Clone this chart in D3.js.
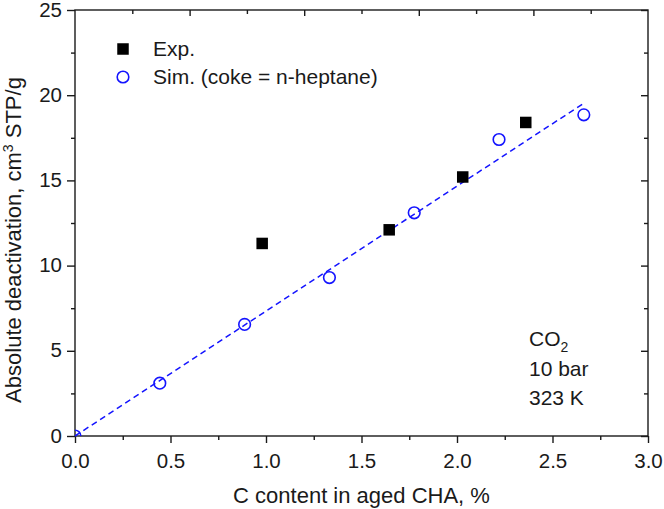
<!DOCTYPE html>
<html><head><meta charset="utf-8">
<script src="https://cdn.jsdelivr.net/npm/d3@7"></script>
<style>body{margin:0;background:#fff}svg{display:block}text{font-family:"Liberation Sans",Arial,sans-serif;fill:#1a1a1a}</style>
</head><body><svg id="c" width="664" height="509"></svg>
<script>
// Data
const expX = [0.98, 1.645, 2.03, 2.36];
const expY = [11.3, 12.1, 15.2, 18.4];
const simX = [0, 0.444, 0.888, 1.332, 1.776, 2.22, 2.664];
const simY = [0, 3.1, 6.55, 9.3, 13.1, 17.4, 18.85];
const fitX = [0, 2.66];
const fitY = [0, 19.5];
const xTicks = [0, 0.5, 1.0, 1.5, 2.0, 2.5, 3.0];
const xMinor = [0.25, 0.75, 1.25, 1.75, 2.25, 2.75];
const yTicks = [0, 5, 10, 15, 20, 25];
const yMinor = [2.5, 7.5, 12.5, 17.5, 22.5];
const legendLabels = ["Exp.", "Sim. (coke = n-heptane)"];
const noteLines = ["CO", "10 bar", "323 K"];

const svg = d3.select("#c");
const L = 75, R = 648, T = 10, B = 436;
const x = d3.scaleLinear().domain([0, 3]).range([L, R]);
const y = d3.scaleLinear().domain([0, 25]).range([B, T]);
const blue = "#1414ff";
const axCol = "#1a1a1a";

// frame
svg.append("rect").attr("x", L).attr("y", T).attr("width", R - L).attr("height", B - T)
  .attr("fill", "none").attr("stroke", axCol).attr("stroke-width", 1.4);

function styleAxis(g) {
  g.select(".domain").remove();
  g.selectAll(".tick line").attr("stroke", axCol).attr("stroke-width", 1.4);
  g.selectAll("text").style("font-size", "20.5px").attr("fill", axCol);
}
// bottom
const gb = svg.append("g").attr("transform", `translate(0,${B})`)
  .call(d3.axisBottom(x).tickValues(xTicks).tickFormat(d3.format(".1f")).tickSize(7).tickPadding(10));
styleAxis(gb);
svg.append("g").attr("transform", `translate(0,${B})`)
  .call(d3.axisBottom(x).tickValues(xMinor).tickFormat("").tickSize(4)).call(styleAxis);
// left
const gl = svg.append("g").attr("transform", `translate(${L},0)`)
  .call(d3.axisLeft(y).tickValues(yTicks).tickSize(8).tickPadding(5));
styleAxis(gl);
gl.selectAll("text").attr("dy", "0.3em");
svg.append("g").attr("transform", `translate(${L},0)`)
  .call(d3.axisLeft(y).tickValues(yMinor).tickFormat("").tickSize(4)).call(styleAxis);
// right (inward)
svg.append("g").attr("transform", `translate(${R},0)`)
  .call(d3.axisLeft(y).tickValues(yTicks).tickFormat("").tickSize(7)).call(styleAxis);
svg.append("g").attr("transform", `translate(${R},0)`)
  .call(d3.axisLeft(y).tickValues(yMinor).tickFormat("").tickSize(4)).call(styleAxis);
// top (inward) - its own division of the frame
const xt = d3.scaleLinear().domain([0, 10]).range([L, R]);
svg.append("g").attr("transform", `translate(0,${T})`)
  .call(d3.axisBottom(xt).tickValues([2, 4, 6, 8]).tickFormat("").tickSize(6)).call(styleAxis);
svg.append("g").attr("transform", `translate(0,${T})`)
  .call(d3.axisBottom(xt).tickValues([1, 3, 5, 7, 9]).tickFormat("").tickSize(4)).call(styleAxis);

// axis titles
svg.append("text").attr("x", (L + R) / 2).attr("y", 503).attr("text-anchor", "middle")
  .style("font-size", "22px").text("C content in aged CHA, %");
const yt = svg.append("text").attr("transform", `translate(21,240) rotate(-90)`)
  .attr("text-anchor", "middle").style("font-size", "22px");
yt.append("tspan").text("Absolute deactivation, cm");
yt.append("tspan").attr("dy", -8).style("font-size", "14px").text("3");
yt.append("tspan").attr("dy", 8).text(" STP/g");

// fit line
const line = d3.line().x(d => x(d[0])).y(d => y(d[1]));
svg.append("path").datum(d3.zip(fitX, fitY)).attr("d", line)
  .attr("fill", "none").attr("stroke", blue).attr("stroke-width", 1.5).attr("stroke-dasharray", "6,4");

// clip for points at axis
svg.append("clipPath").attr("id", "pc").append("rect").attr("x", L).attr("y", T).attr("width", R - L).attr("height", B - T);

// sim circles
svg.append("g").attr("clip-path", "url(#pc)").selectAll("circle").data(d3.zip(simX, simY)).join("circle")
  .attr("cx", d => x(d[0])).attr("cy", d => y(d[1])).attr("r", 5.8)
  .attr("fill", "none").attr("stroke", blue).attr("stroke-width", 1.6);
// exp squares
const sq = 11.5;
svg.append("g").selectAll("rect").data(d3.zip(expX, expY)).join("rect")
  .attr("x", d => x(d[0]) - sq / 2).attr("y", d => y(d[1]) - sq / 2)
  .attr("width", sq).attr("height", sq).attr("fill", "#000");

// legend
svg.append("rect").attr("x", 123 - sq / 2).attr("y", 49 - sq / 2).attr("width", sq).attr("height", sq).attr("fill", "#000");
svg.append("circle").attr("cx", 123).attr("cy", 77).attr("r", 5.8).attr("fill", "none").attr("stroke", blue).attr("stroke-width", 1.6);
svg.selectAll(".lg").data(legendLabels).join("text").attr("class", "lg")
  .attr("x", 153).attr("y", (d, i) => 56 + i * 28).style("font-size", "21px").text(d => d);

// annotation
const note = svg.append("g").style("font-size", "21px");
const t0 = note.append("text").attr("x", 529).attr("y", 346);
t0.append("tspan").text(noteLines[0]);
t0.append("tspan").attr("dy", 6).style("font-size", "14px").text("2");
note.append("text").attr("x", 529).attr("y", 376).text(noteLines[1]);
note.append("text").attr("x", 529).attr("y", 405).text(noteLines[2]);
</script></body></html>
